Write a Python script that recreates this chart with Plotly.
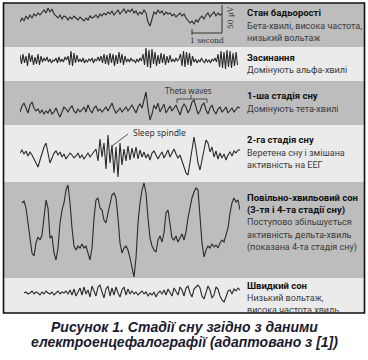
import numpy as np
import plotly.graph_objects as go

W, H = 368, 360

# ---------------- data (amplitude units, positive = up) ----------------
wake = [-6, -2, -5, 0, -3, 1, -2, 2, 0, 3, 1, 4,
        6, 3, 8, 4, 7, 2,
        0, -2, 1, -3, 0, -1, -4, -1, -3, 0, -2, -4, -1, -3, -5, -2, -4, 0, -2,
        -1, 1, -2, 2, 0, 3, 1, 4, 2, 5, 1, 3, 6, 2, 5, 7, 3, 6, 4, 7, 3, 5, 1, 4, 2, 6, 3,
        -6, -10, -3,
        4, 2, 6, 3, 5, 1, 4, 2, 3, 0, 2, -1, 1, 3, 0, 2, -2,
        -4, -7, -5, -8, -4, -6, -2,
        0, -3, 1, 3, -1, 2, 4, 0, 3, 1, 2]

drowsy = [5, -4, 6, -3, 4, -6, 7, -2, 5, -5, 3, -4, 6, -5, 4, -2,
          2, -1, 3, -2, 1, -3, 0, -1, 2, -3, 3, -2, 1, -2, 3, 0,
          4, -5, 9, -6, 7, -3, 5, -2,
          1, -2, 2, -3, 0, -2, 1, -1, 2, -3, 1, -1, 3, -1,
          4, -3, 6, -4, 5, -5, 7, -3, 6, -6, 5, -4, 8, -3, 6, -5, 4, -2,
          1, -2, 2, -1, 0, -3, 1, -2, 2, -1,
          6, -5, 12, -7, 10, -8, 11, -4, 8, -6,
          5, -4, 7, -3, 6, -5, 4, -3, 5, -2,
          1, -2, 2, -1, 1,
          6, -6, 9, -7, 8, -5, 7, -6, 4,
          -2, 1, -3, 0, -2, 2, -1, -3, 1, -2, 0, -3, 1, -1, 2, -2,
          6, -7, 9, -8, 8, -9, 10, -7, 9, -8, 7, -6, 8, -5]

stage1 = [-2, 4, 7, 1, -3, 5, 8, 2, -1,
          1, -3, 0, -4, -1, -3, 1, -4, -2,
          2, -3, -7, -2, 3, 1, -2, 2, 4, -1, -3, 1, -2, 0,
          3, -2, 5, 0, -3, 2, 4, -1, 1,
          -2, 1, 3, -1, 4, 7, 1, -3, -1, 2, -2, 0, 3, -1, 2, 5, 1, -3, 3, 6, 2,
          9, 18, 2, -10,
          -4, 5, 1, 7, -2, 3, 6, -3, 0, 4, -1, 2,
          5, 0, -5, 2, 6, 3, -3, 1, 8, 10, 4, -4, -1, 5, 7, 0,
          -4, 2, 5, -1, -4, 1, 3, -2, 0, 3, -3, -1, 2, -2, 1, 3, 2]

stage2 = [2, 5, 1, 4, -1, 3, 0, -4, -8,
          -12, -5, 3, 8, 12, 2, -8,
          -3, 2, 4, 0, 3, -2, 1, -4, -1, 2, 0, -3,
          -1, 2, -3, 0, -4, -1, 2, -2, 1, 4,
          6, -6, 16, -2, 12, -14, 20, -8, 10, -18, 8, -22, 12, -10, 6,
          -6, 9, -5, 7, -3, 8, -4, 5,
          -2, 3, -3, 1, -5, 2, 4, -1, -4, 0, 3, -3, 1, 5, -2, 2, 6, 1, -3, 0,
          -6, -12, -18, -20, -8, 5, 18, 6,
          -8, -15, -6, 4, 15, 12, 3,
          8, -2, 4, -4, 2, -3, 1, -5, 0, 3, -1, 4, 2, 5, 5]

sws = [25, 27, 20, 5, -12, -25, -28, -15, -9, -12, -7, 10, 28, 20, -10, -8, -25, -32,
       -20, 5, 18, 25, 38, 43, 25, 0, -18, -22, -18, -20, -16, -20, -18, -25, -32,
       -20, 10, 28, 30, 20, 18, 8, 5, 15, 25, 33, 35, 30, 10, -15, -25, -20, -18,
       -22, -30, -40, -49, -30, 5, 25, 38, 45, 35, 10, -10, -18, -22, -24, -12, -8,
       -14, -5, 15, 18, 5, -10, -12, -8, -14, -10, -6, -12, -4, 10, 22, 30, 36, 40,
       38, 15, -15, -29, -22, -18, -20, -16, -19, -17, -20, -15, -12, -14, -8, 0,
       15, 25, 30, 26, 28, 18]

rem = [0, 1, -1, 0, 2, -1, 1, 0, -2, 1, -1, 2, 0, -1, 1, -2, 0, 2, -1, 1, 0, 2,
       -1, 3, -2, 4, -3, 2, 5, -2, 6, -1, 3, -4, 7, 2, -3,
       6, 8, 1, -5, 4, 7, -3, 5, -2, 6, 0, -4, 3, 6, -2, 4, -1, 2,
       -1, 1, -2, 0, 2, -1, 1, -3, 0, -2, 1, -4, 0,
       2, -1, 3, -2, 4, 1, -3, 5, 2, -2, 6, 3, -3, 5, 7, 0, -4, 4, 6, 8,
       5, -3, -6, 2, 7, 3, -5, -2, 6, 4, -3, -7, -9, -4, 2, 3, -1, 4, 2, 5, 3]

titles = [["Стан бадьорості"], ["Засинання"], ["1-ша стадія сну"], ["2-га стадія сну"],
          ["Повільно-хвильовий сон", "(3-тя і 4-та стадії сну)"], ["Швидкий сон"]]
subtitles = [["Бета-хвилі, висока частота,", "низький вольтаж"],
             ["Домінують альфа-хвилі"],
             ["Домінують тета-хвилі"],
             ["Веретена сну і змішана", "активність на ЕЕГ"],
             ["Поступово збільшується", "активність дельта-хвиль", "(показана 4-та стадія сну)"],
             ["Низький вольтаж,", "висока частота хвиль"]]
caption = ["Рисунок 1. Стадії сну згідно з даними",
           "електроенцефалографії (адаптовано з [1])"]

# ---------------- layout helpers ----------------
PX_PER_S = 30.0          # 1 second = 30 px in the drawing
X0, X1 = 20, 240         # trace area (px)
T_END = (X1 - X0) / PX_PER_S
FR_L, FR_R, FR_T, FR_B = 3.5, 364.5, 3, 313

def py(p):  # pixel y -> paper
    return 1 - p / H

def px(p):
    return p / W

# panel bands (top, bottom, color) and trace centre/half-height
panels = [
    (FR_T, 47, "#bdbdbd", 16, 14),
    (47, 81, "#ebebeb", 60, 16),
    (81, 125, "#bdbdbd", 110, 21),
    (125, 182, "#ebebeb", 155, 27),
    (182, 278, "#bdbdbd", 228, 50),
    (278, FR_B, "#ebebeb", 293, 16),
]
series = [wake, drowsy, stage1, stage2, sws, rem]
start_px = [20, 20, 20, 20, 22, 24]
step_px = [2, 1.5, 2, 2, 2, 2]
title_py = [13, 57, 96, 140, 197, 285]
LINE = 12.6
FONT = "Roboto, Liberation Sans, sans-serif"

fig = go.Figure()
shapes = []
annotations = []
layout_axes = {}

def note(x, y, text, size, color, family=FONT, xanchor="left", **kw):
    d = dict(xref="paper", yref="paper", x=x, y=y, xanchor=xanchor, yanchor="middle",
             showarrow=False, text=text, font=dict(family=family, size=size, color=color))
    d.update(kw)
    annotations.append(d)

for k, ((top, bot, col, yc, hh), vals) in enumerate(zip(panels, series)):
    shapes.append(dict(type="rect", xref="paper", yref="paper", x0=px(FR_L), x1=px(FR_R),
                       y0=py(bot), y1=py(top), fillcolor=col, line_width=0, layer="below"))
    n = k + 1
    xa = "x" if n == 1 else f"x{n}"
    ya = "y" if n == 1 else f"y{n}"
    t = (start_px[k] - X0) / PX_PER_S + np.arange(len(vals)) * step_px[k] / PX_PER_S
    fig.add_trace(go.Scatter(x=t, y=vals, mode="lines", xaxis=xa, yaxis=ya,
                             line=dict(color="#2a2a2a", width=1.1), hoverinfo="skip",
                             showlegend=False))
    layout_axes["xaxis" if n == 1 else f"xaxis{n}"] = dict(
        domain=[px(X0), px(X1)], range=[0, T_END], visible=False, anchor=ya)
    layout_axes["yaxis" if n == 1 else f"yaxis{n}"] = dict(
        domain=[py(yc + hh), py(yc - hh)], range=[-hh, hh], visible=False, anchor=xa)

    # right-hand labels, one annotation per line
    yline = title_py[k]
    for line in titles[k]:
        note(px(245), py(yline), "<b>" + line + "</b>", 9.5, "#111111")
        yline += LINE
    for line in subtitles[k]:
        note(px(245), py(yline), line, 9, "#3a3a3a")
        yline += LINE

# outer frame
shapes.append(dict(type="rect", xref="paper", yref="paper", x0=px(FR_L), x1=px(FR_R),
                   y0=py(FR_B), y1=py(FR_T), line=dict(color="#111111", width=1.6)))

# scale bar (1 s horizontal, 50 µV vertical)
sb_x1 = (222 - X0) / PX_PER_S
sb_x0 = sb_x1 - 1.0
shapes += [
    dict(type="line", xref="x", yref="paper", x0=sb_x1, x1=sb_x1, y0=py(5), y1=py(33),
         line=dict(color="#333333", width=1)),
    dict(type="line", xref="x", yref="paper", x0=sb_x0, x1=sb_x1, y0=py(33), y1=py(33),
         line=dict(color="#333333", width=1)),
    dict(type="line", xref="x", yref="paper", x0=sb_x0, x1=sb_x0, y0=py(29), y1=py(35),
         line=dict(color="#333333", width=1)),
]
note(px(207), py(40), "1 second", 7.5, "#333333", family="DejaVu Serif, serif", xanchor="center")
note(px(230), py(18), "50 µV", 7.5, "#333333", family="DejaVu Serif, serif", xanchor="center",
     textangle=-90)

# theta waves bracket (panel 3)
tx0, tx1 = (177 - X0) / PX_PER_S, (207 - X0) / PX_PER_S
tmid = (191 - X0) / PX_PER_S
shapes += [
    dict(type="line", xref="x3", yref="paper", x0=tx0, x1=tx1, y0=py(99), y1=py(99),
         line=dict(color="#333333", width=0.8)),
    dict(type="line", xref="x3", yref="paper", x0=tx0, x1=tx0, y0=py(99), y1=py(103),
         line=dict(color="#333333", width=0.8)),
    dict(type="line", xref="x3", yref="paper", x0=tx1, x1=tx1, y0=py(99), y1=py(103),
         line=dict(color="#333333", width=0.8)),
    dict(type="line", xref="x3", yref="paper", x0=tmid, x1=tmid, y0=py(95), y1=py(99),
         line=dict(color="#333333", width=0.8)),
]
note(px(188), py(90), "Theta waves", 8, "#333333", family="Noto Sans, sans-serif",
     xanchor="center")

# sleep spindle pointer (panel 4)
shapes.append(dict(type="line", xref="x4", yref="paper", x0=(112 - X0) / PX_PER_S,
                   x1=(128 - X0) / PX_PER_S, y0=py(146), y1=py(134),
                   line=dict(color="#333333", width=0.8)))
note(px(131), py(132), "Sleep spindle", 8.5, "#333333", family="Noto Sans, sans-serif")

# caption
for i, line in enumerate(caption):
    note(px(184), py(327 + 15 * i), "<b><i>" + line + "</i></b>", 14, "#1a1a30",
         family="Liberation Sans, Arial, sans-serif", xanchor="center")

fig.update_layout(width=W, height=H, margin=dict(l=0, r=0, t=0, b=0),
                  paper_bgcolor="white", plot_bgcolor="rgba(0,0,0,0)",
                  shapes=shapes, annotations=annotations, **layout_axes)

fig.write_html("out.html", config={"displayModeBar": False},
               post_script="document.body.style.margin='0';document.body.style.overflow='hidden';")
